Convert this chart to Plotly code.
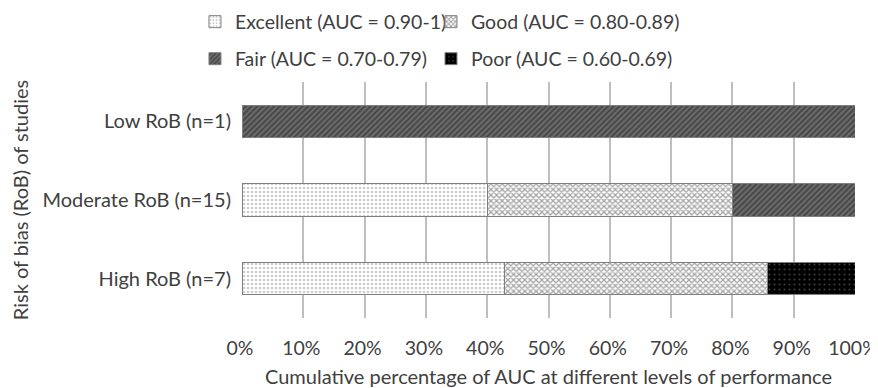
import plotly.graph_objects as go

categories = ["High RoB (n=7)", "Moderate RoB (n=15)", "Low RoB (n=1)"]
excellent = [42.86, 40.0, 0.0]
good = [42.86, 40.0, 0.0]
fair = [0.0, 20.0, 100.0]
poor = [14.28, 0.0, 0.0]
tick_vals = [0, 10, 20, 30, 40, 50, 60, 70, 80, 90, 100]
tick_text = [f"{v}%" for v in tick_vals]

FONT = "Lato"
TXT = "#404040"

series = [
    ("Excellent (AUC = 0.90-1)", excellent, dict(shape=".", bgcolor="white", fgcolor="#9a9a9a", size=4, solidity=0.35), "legend", 0.2149, 0.9632),
    ("Good (AUC = 0.80-0.89)", good, dict(shape="x", bgcolor="white", fgcolor="#4a4a4a", size=4, solidity=0.55), "legend2", 0.4862, 0.9632),
    ("Fair (AUC = 0.70-0.79)", fair, dict(shape="/", bgcolor="#707070", fgcolor="#202020", size=4, solidity=0.55), "legend3", 0.2149, 0.8658),
    ("Poor (AUC = 0.60-0.69)", poor, dict(shape=".", bgcolor="black", fgcolor="#777777", size=5, solidity=0.15), "legend4", 0.4862, 0.8658),
]

fig = go.Figure()
legends = {}
for name, vals, pat, lg, lx, ly in series:
    fig.add_trace(go.Bar(
        y=categories, x=vals, name=name, orientation="h", legend=lg, showlegend=True,
        marker=dict(color=pat["bgcolor"], pattern=pat, line=dict(color="#7f7f7f", width=1)),
    ))
    legends[lg] = dict(orientation="h", x=lx, y=ly, xref="container", yref="container",
                       xanchor="left", yanchor="middle", itemwidth=30, visible=True,
                       font=dict(size=19.5, color=TXT), bgcolor="rgba(0,0,0,0)")

# the page body adds an 8px offset, so the figure is 8px smaller and margins compensate
fig.update_layout(
    barmode="stack",
    bargap=0.59,
    showlegend=True,
    width=870, height=380,
    margin=dict(l=234, r=23, t=74, b=70, autoexpand=False),
    plot_bgcolor="white", paper_bgcolor="white",
    font=dict(family=FONT, size=20, color=TXT),
    **legends,
    xaxis=dict(range=[0, 100], tickvals=tick_vals, ticktext=tick_text, automargin=False,
               ticklabeloverflow="allow", ticklabelshift=-2,
               showgrid=True, gridcolor="#bfbfbf", gridwidth=1.5, zeroline=False,
               showline=False, ticks="", ticklabelstandoff=16, tickfont=dict(size=19.5, color=TXT),
               title=dict(text="Cumulative percentage of AUC at different levels of performance",
                          font=dict(size=20, color=TXT), standoff=14)),
    yaxis=dict(categoryorder="array", categoryarray=categories, showgrid=False, automargin=False,
               showline=False, ticks="", ticklabelstandoff=10, tickfont=dict(size=20, color=TXT),
               title=dict(text="Risk of bias (RoB) of studies", font=dict(size=20, color=TXT), standoff=8)),
)
fig.write_html("out.html")
